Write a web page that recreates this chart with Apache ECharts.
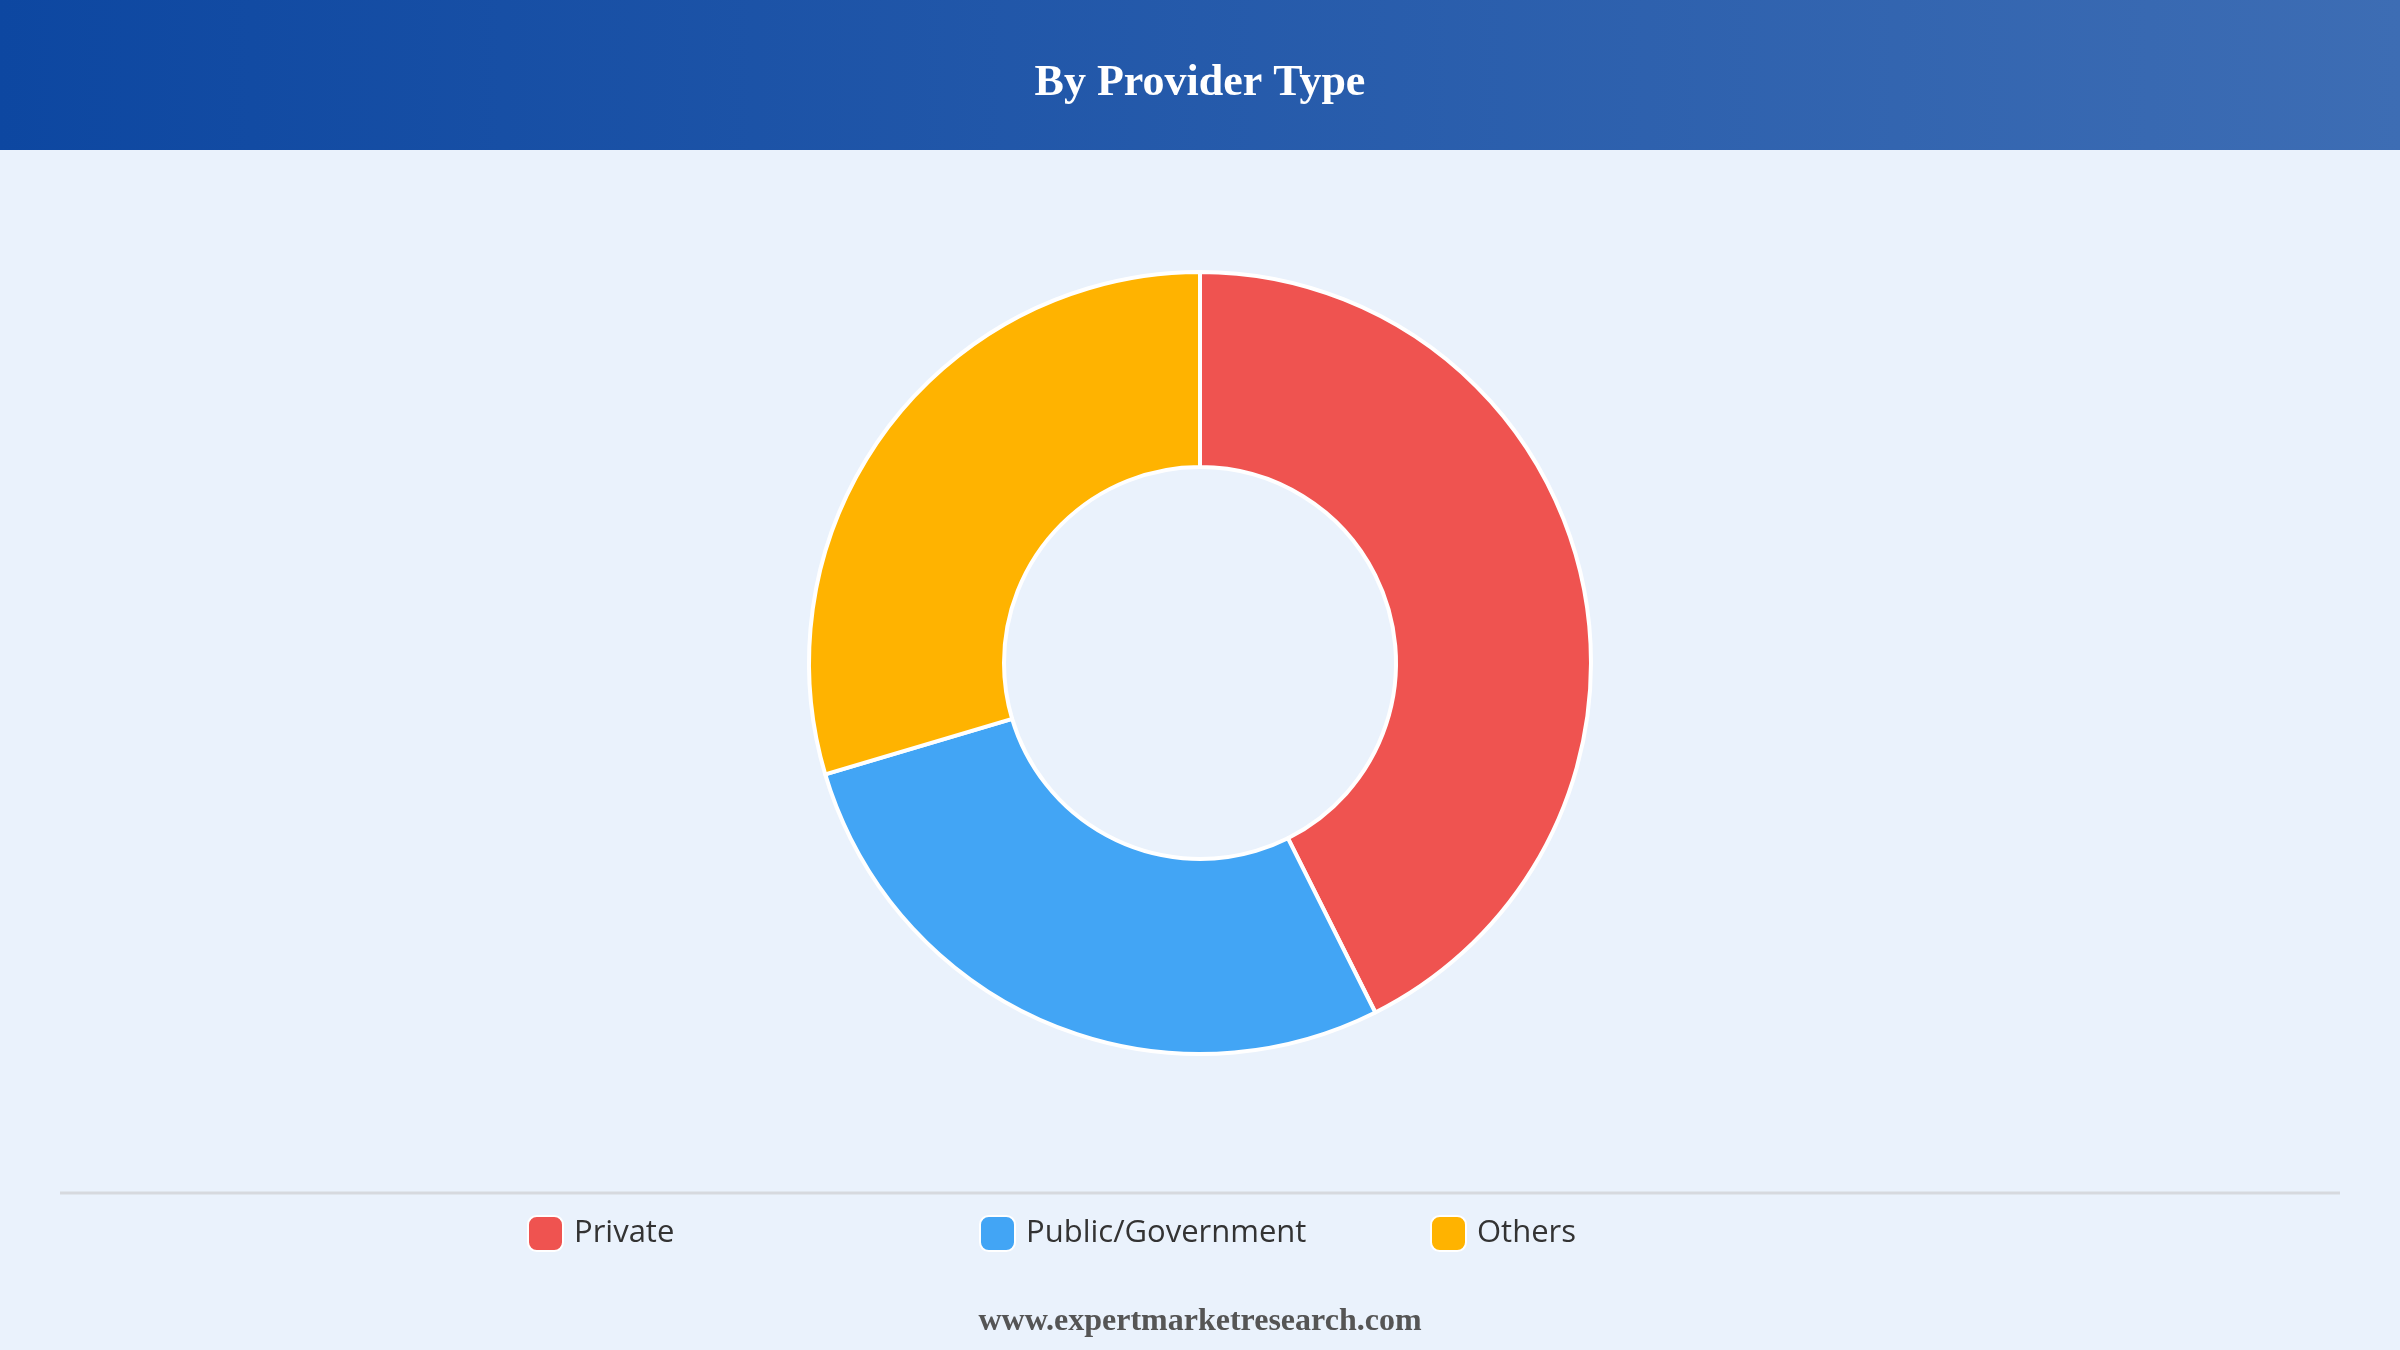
<!DOCTYPE html>
<html><head><meta charset="utf-8">
<script src="https://cdn.jsdelivr.net/npm/echarts@6/dist/echarts.min.js"></script>
<style>html,body{margin:0;padding:0;background:#eaf2fc}#c{width:2400px;height:1350px}</style>
</head><body><div id="c"></div>
<script>
const categories = ['Private', 'Public/Government', 'Others'];
const values = [42.6, 27.8, 29.6];
const colors = ['#ef5350', '#42a5f5', '#ffb300'];
const legendX = [522, 974, 1425];

const chart = echarts.init(document.getElementById('c'));
chart.setOption({
  backgroundColor: '#eaf2fc',
  animation: false,
  graphic: [
    {type: 'rect', left: 0, top: 0, shape: {width: 2400, height: 150},
     style: {fill: new echarts.graphic.LinearGradient(0, 0, 1, 0, [{offset: 0, color: '#0d47a1'}, {offset: 1, color: '#3d6db4'}])}},
    {type: 'text', left: 'center', top: 62, style: {text: 'By Provider Type', fill: '#fff', font: 'bold 44px "Liberation Serif", serif'}},
    {type: 'line', shape: {x1: 60, y1: 1193, x2: 2340, y2: 1193}, style: {stroke: '#d6d9de', lineWidth: 3}},
    {type: 'text', left: 'center', top: 1306, style: {text: 'www.expertmarketresearch.com', fill: '#555', font: 'bold 32px "Liberation Serif", serif'}}
  ],
  legend: categories.map((c, i) => ({
    data: [c], left: legendX[i], top: 1210, icon: 'roundRect', itemWidth: 35, itemHeight: 35,
    textStyle: {fontSize: 31, color: '#333', fontWeight: 500, fontFamily: '"Open Sans", sans-serif', padding: [0, 0, 0, 6]}
  })),
  series: [{
    type: 'pie', center: [1200, 663], radius: [196, 391], startAngle: 90, clockwise: true,
    label: {show: false}, labelLine: {show: false},
    itemStyle: {borderColor: '#fff', borderWidth: 4},
    data: categories.map((c, i) => ({name: c, value: values[i], itemStyle: {color: colors[i]}}))
  }]
});
</script></body></html>
